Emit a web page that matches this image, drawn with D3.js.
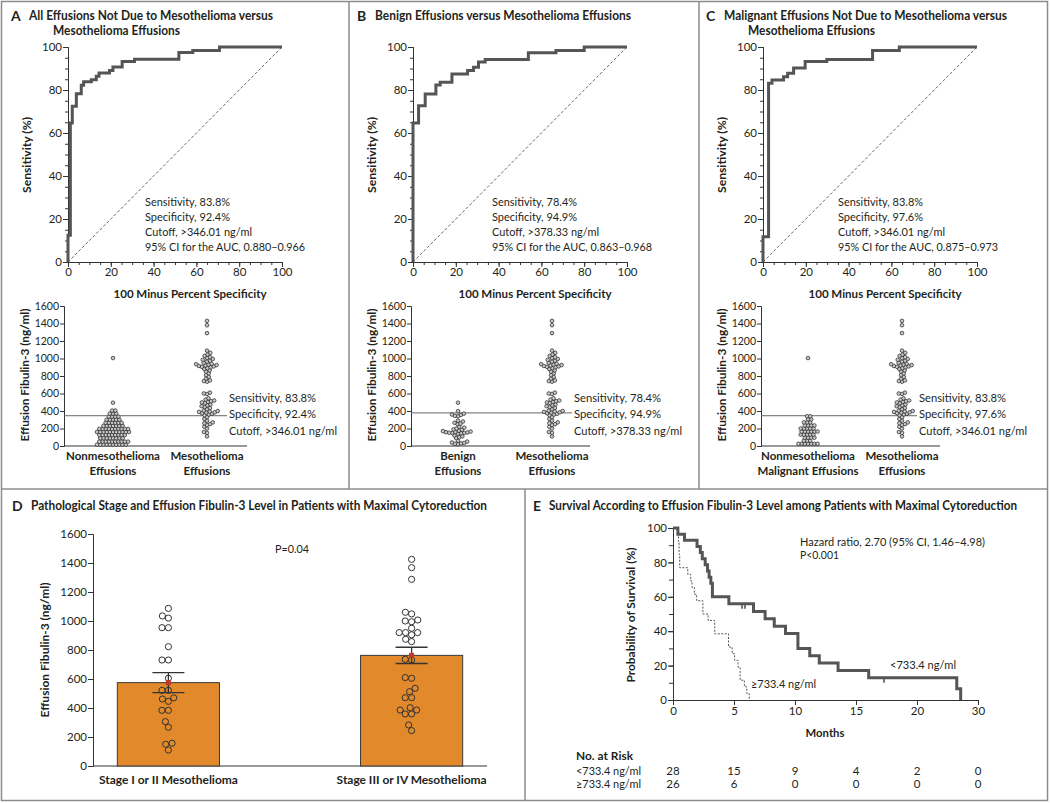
<!DOCTYPE html>
<html><head><meta charset="utf-8">
<script src="https://cdn.jsdelivr.net/npm/d3@7"></script>
<style>body{margin:0;background:#fff}</style>
</head><body>
<script>
// ---------------- DATA ----------------
const rocTicks = [0, 20, 40, 60, 80, 100];
const conTicks = [0, 200, 400, 600, 800, 1000, 1200, 1400, 1600];

const rocA_fpr = [0, 0, 1.1, 2.0, 3.9, 6.2, 7.3, 10.9, 13.2, 14.5, 19.4, 21.0, 25.3, 31.1, 51.8, 58.3, 70.8, 100];
const rocA_sens = [0, 12.4, 64.7, 72.4, 78.3, 82.2, 83.8, 84.8, 86.4, 87.9, 89.1, 90.7, 93.3, 94.3, 97.4, 98.4, 100, 100];
const rocB_fpr = [0, 0, 2.6, 5.7, 10.7, 12.7, 18.2, 25.5, 28.3, 30.6, 33.7, 53.9, 66.8, 80.0, 100];
const rocB_sens = [0, 64.7, 72.7, 78.1, 82.3, 83.6, 87.5, 89.1, 90.6, 93.0, 94.2, 97.3, 98.4, 100, 100];
const rocC_fpr = [0, 0, 2.6, 4.2, 9.6, 11.5, 14.3, 19.7, 29.8, 51.2, 63.7, 100];
const rocC_sens = [0, 11.7, 83.1, 84.7, 86.2, 87.8, 90.2, 93.3, 94.2, 98.4, 100, 100];

const cutoffs = [346.01, 378.33, 346.01];
const annotA = ["Sensitivity, 83.8%", "Specificity, 92.4%", "Cutoff, >346.01 ng/ml", "95% CI for the AUC, 0.880\u20130.966"];
const annotB = ["Sensitivity, 78.4%", "Specificity, 94.9%", "Cutoff, >378.33 ng/ml", "95% CI for the AUC, 0.863\u20130.968"];
const annotC = ["Sensitivity, 83.8%", "Specificity, 97.6%", "Cutoff, >346.01 ng/ml", "95% CI for the AUC, 0.875\u20130.973"];

const mesoValues = [1430, 1380, 1290,
  1090, 1065, 1045, 1030, 1015, 1005, 995, 985, 975, 965,
  950, 940, 935, 930, 925, 920, 915, 910, 905, 900, 890, 880,
  865, 850, 830, 810, 790, 770, 750, 742, 735,
  610, 600, 595,
  545, 530, 520, 512, 505, 498, 490,
  475, 465, 455, 445, 435,
  420, 405, 400, 395, 390, 385, 382,
  375, 368, 360, 352,
  330, 310, 290, 270, 260, 250, 240, 220, 200, 160, 150, 110];
const nonMesoValues = [1005, 495, 405, 405, 370, 370, 370,
  335, 335, 335, 335,
  300, 300, 300, 300, 300,
  265, 265, 265, 265, 265, 265,
  230, 230, 230, 230, 230, 230, 230,
  195, 195, 195, 195, 195, 195, 195, 195, 195, 195,
  160, 160, 160, 160, 160, 160, 160, 160, 160, 160, 160,
  125, 125, 125, 125, 125, 125, 125, 125, 125,
  90, 90, 90, 90, 90, 90, 90, 90,
  50, 50, 50, 50, 50, 50, 50, 50, 50, 50,
  15, 15, 15, 15, 15, 15, 15, 15, 15, 15];
const benignValues = [495, 398, 370, 360, 355, 345, 340, 290, 280, 265, 255, 250,
  220, 210, 200, 190, 185, 175, 170, 165, 160, 158, 155, 152, 150, 148, 145, 140,
  120, 110, 100, 90, 60, 50, 40, 35, 30, 25, 20];
const malignantValues = [1005, 340, 340, 305, 305, 270, 270, 270,
  235, 235, 235, 235, 200, 200, 200, 200, 200, 165, 165, 165, 165, 165, 165,
  130, 130, 130, 130, 130, 95, 95, 95, 95, 60, 60, 60,
  25, 25, 25, 25, 25, 25, 25];

const stageCats = ["Stage I or II Mesothelioma", "Stage III or IV Mesothelioma"];
const stage12 = [1087, 1035, 1020, 954, 954, 823, 731, 731, 605, 522, 522, 470, 462, 446, 384, 384, 306, 267, 157, 150, 110];
const stage34 = [1425, 1368, 1287, 1060, 1049, 1007, 1000, 995, 950, 920, 920, 920, 905, 874, 858, 736, 731, 610, 605, 536, 513, 471, 471, 402, 386, 386, 359, 359, 283, 244];
const stageMean = [575, 763];
const stageSE = [69, 56];

const kmLowT = [0, 0.40, 0.94, 1.97, 2.24, 2.40, 2.64, 2.83, 2.96, 3.10, 3.23, 4.58, 6.60, 7.55, 8.30, 9.22, 10.24, 11.21, 11.99, 13.53, 16.04, 23.26, 23.58];
const kmLowS = [100, 96.4, 92.9, 89.3, 85.7, 82.1, 78.6, 75.0, 71.4, 67.9, 60.0, 56.0, 51.5, 47.3, 42.9, 38.6, 30.0, 25.7, 21.5, 17.2, 12.9, 6.5, 0];
const kmLowCensorT = [5.66, 5.90, 17.3];
const kmLowCensorS = [56.0, 56.0, 12.9];
const kmHighT = [0, 0.45, 0.50, 0.55, 1.21, 1.45, 1.56, 1.75, 1.94, 2.45, 2.88, 3.42, 4.55, 4.85, 5.05, 5.33, 5.50, 5.85, 6.05, 6.25];
const kmHighS = [100, 92.3, 84.6, 76.9, 73.1, 69.2, 65.4, 61.5, 57.7, 50.0, 46.2, 38.5, 30.8, 26.9, 23.1, 19.2, 11.5, 7.7, 3.8, 0];
const kmTicks = [0, 5, 10, 15, 20, 25];
const kmTickLabels = ["0", "5", "10", "15", "20", "30"];
const kmYTicks = [0, 20, 40, 60, 80, 100];
const riskLabels = ["<733.4 ng/ml", "\u2265733.4 ng/ml"];
const riskLow = [28, 15, 9, 4, 2, 0];
const riskHigh = [26, 6, 0, 0, 0, 0];

// ---------------- DRAW ----------------
const FONT = "Lato, 'Noto Sans', sans-serif";
const INK = "#231f20";
const svg = d3.select("body").append("svg").attr("width", 1050).attr("height", 803)
  .style("font-family", FONT).style("fill", INK);

function txt(x, y, s, o = {}) {
  const t = svg.append("text").attr("x", x).attr("y", y).text(s)
    .attr("font-size", o.size || 11.5).attr("font-weight", o.bold ? "bold" : "normal")
    .attr("text-anchor", o.anchor || "start").attr("dominant-baseline", "middle").attr("fill", INK);
  if (o.len) t.attr("textLength", o.len).attr("lengthAdjust", "spacingAndGlyphs");
  return t;
}
function ytitle(x, y, s, len) {
  const t = svg.append("text").attr("transform", `translate(${x},${y}) rotate(-90)`).text(s)
    .attr("font-size", 11.5).attr("font-weight", "bold").attr("text-anchor", "middle")
    .attr("dominant-baseline", "middle").attr("fill", INK);
  if (len) t.attr("textLength", len).attr("lengthAdjust", "spacingAndGlyphs");
}
function styleAxis(g, fs) {
  g.selectAll("path,line").attr("stroke", "#333").attr("stroke-width", 1);
  g.selectAll("text").attr("font-size", fs || 11).attr("fill", INK).style("font-family", FONT);
}
const fmt = d3.format("d");

// frame & dividers
const frame = svg.append("g").attr("stroke", "#8c8c8c").attr("stroke-width", 1.5).attr("fill", "none");
frame.append("rect").attr("x", 1.5).attr("y", 1.5).attr("width", 1046).attr("height", 799);
frame.append("line").attr("x1", 349).attr("x2", 349).attr("y1", 1.5).attr("y2", 489);
frame.append("line").attr("x1", 699).attr("x2", 699).attr("y1", 1.5).attr("y2", 489);
frame.append("line").attr("x1", 1.5).attr("x2", 1047.5).attr("y1", 489).attr("y2", 489);
frame.append("line").attr("x1", 525).attr("x2", 525).attr("y1", 489).attr("y2", 800.5);

function swarm(vals, y, D) {
  const pts = vals.map(v => ({ v, y: y(v) })).sort((a, b) => b.y - a.y);
  const placed = [];
  for (const p of pts) {
    const ivs = [];
    for (const q of placed) {
      const dy = Math.abs(q.y - p.y);
      if (dy < D) { const dx = Math.sqrt(D * D - dy * dy); ivs.push([q.x - dx, q.x + dx]); }
    }
    const cands = [0];
    ivs.forEach(iv => cands.push(iv[0], iv[1]));
    cands.sort((a, b) => (Math.abs(a) - Math.abs(b)) || (a - b));
    let x = 0;
    for (const c of cands) {
      if (ivs.every(iv => c <= iv[0] + 1e-6 || c >= iv[1] - 1e-6)) { x = c; break; }
    }
    p.x = x; placed.push(p);
  }
  return pts;
}

const annotLens = [85, 85, 107, 160];

function rocPanel(cfg) {
  const x = d3.scaleLinear().domain([0, 100]).range([cfg.left, cfg.left + 214]);
  const y = d3.scaleLinear().domain([0, 100]).range([262, 47]);
  const minor = d3.range(0, 101, 5);
  styleAxis(svg.append("g").attr("transform", "translate(0,262)")
    .call(d3.axisBottom(x).tickValues(minor).tickSize(3).tickFormat("")));
  styleAxis(svg.append("g").attr("transform", `translate(${cfg.left},0)`)
    .call(d3.axisLeft(y).tickValues(minor).tickSize(3).tickFormat("")));
  styleAxis(svg.append("g").attr("transform", "translate(0,262)")
    .call(d3.axisBottom(x).tickValues(rocTicks).tickSize(5).tickPadding(1)), 11.5);
  styleAxis(svg.append("g").attr("transform", `translate(${cfg.left},0)`)
    .call(d3.axisLeft(y).tickValues(rocTicks).tickSize(5).tickPadding(1)), 11.5);
  svg.append("line").attr("x1", x(0)).attr("y1", y(0)).attr("x2", x(100)).attr("y2", y(100))
    .attr("stroke", "#555").attr("stroke-width", 0.9).attr("stroke-dasharray", "3,2");
  const pts = cfg.fpr.map((f, i) => [f, cfg.sens[i]]);
  svg.append("path").datum(pts)
    .attr("d", d3.line().x(d => x(d[0])).y(d => y(d[1])).curve(d3.curveStepAfter))
    .attr("fill", "none").attr("stroke", "#555").attr("stroke-width", 3);
  cfg.annot.forEach((s, i) => txt(cfg.annX, 203 + i * 15, s, { size: 11.5, len: annotLens[i] }));
  ytitle(cfg.left - 40, 155, "Sensitivity (%)", 76);
  txt(cfg.left + 122, 295, "100 Minus Percent Specificity", { bold: true, anchor: "middle", size: 12, len: 153 });

  // dot plot
  const L = cfg.dotLeft;
  const yd = d3.scaleLinear().domain([0, 1600]).range([446, 306]);
  styleAxis(svg.append("g").attr("transform", `translate(${L},0)`)
    .call(d3.axisLeft(yd).tickValues(conTicks).tickSize(4).tickPadding(1).tickFormat(fmt)), 10.5);
  svg.append("line").attr("x1", L).attr("x2", cfg.dotRight).attr("y1", 446).attr("y2", 446)
    .attr("stroke", "#333");
  ytitle(L - 38, 375, "Effusion Fibulin-3 (ng/ml)", 133);
  svg.append("line").attr("x1", L).attr("x2", cfg.cutEnd).attr("y1", yd(cfg.cut)).attr("y2", yd(cfg.cut))
    .attr("stroke", "#666").attr("stroke-width", 1);
  [cfg.ctrl, mesoValues].forEach((vals, k) => {
    const cx = cfg.catX[k];
    const sw = swarm(vals, yd, 3.2);
    svg.append("g").selectAll("circle").data(sw).join("circle")
      .attr("cx", d => cx + d.x).attr("cy", d => d.y).attr("r", 1.8)
      .attr("fill", "#c8c8c8").attr("stroke", "#333").attr("stroke-width", 0.8);
    cfg.catLabels[k].forEach((s, i) => txt(cx, 457 + i * 15, s, { bold: true, anchor: "middle", size: 11.5 }));
  });
  cfg.annot.slice(0, 3).forEach((s, i) => txt(cfg.cutEnd + 2, 399 + i * 16.5, s, { size: 11.5, len: [87, 87, 108][i] }));
}

// Panel titles
txt(11, 17, "A", { bold: true, size: 14 });
txt(29, 17, "All Effusions Not Due to Mesothelioma versus", { bold: true, size: 12.5, len: 244 });
txt(53, 32, "Mesothelioma Effusions", { bold: true, size: 12.5, len: 127 });
txt(357, 17, "B", { bold: true, size: 14 });
txt(375, 17, "Benign Effusions versus Mesothelioma Effusions", { bold: true, size: 12.5, len: 256 });
txt(706, 17, "C", { bold: true, size: 14 });
txt(724, 17, "Malignant Effusions Not Due to Mesothelioma versus", { bold: true, size: 12.5, len: 283 });
txt(748, 32, "Mesothelioma Effusions", { bold: true, size: 12.5, len: 127 });

rocPanel({ left: 68, fpr: rocA_fpr, sens: rocA_sens, annot: annotA, annX: 145,
  dotLeft: 64, dotRight: 247, cutEnd: 227, cut: cutoffs[0], ctrl: nonMesoValues,
  catX: [113, 207], catLabels: [["Nonmesothelioma", "Effusions"], ["Mesothelioma", "Effusions"]] });
rocPanel({ left: 413, fpr: rocB_fpr, sens: rocB_sens, annot: annotB, annX: 492,
  dotLeft: 411, dotRight: 590, cutEnd: 572, cut: cutoffs[1], ctrl: benignValues,
  catX: [458, 552], catLabels: [["Benign", "Effusions"], ["Mesothelioma", "Effusions"]] });
rocPanel({ left: 763, fpr: rocC_fpr, sens: rocC_sens, annot: annotC, annX: 838,
  dotLeft: 761, dotRight: 940, cutEnd: 917, cut: cutoffs[2], ctrl: malignantValues,
  catX: [808, 902], catLabels: [["Nonmesothelioma", "Malignant Effusions"], ["Mesothelioma", "Effusions"]] });

// ---------------- Panel D ----------------
txt(12, 507, "D", { bold: true, size: 14 });
txt(31, 507, "Pathological Stage and Effusion Fibulin-3 Level in Patients with Maximal Cytoreduction", { bold: true, size: 12.5, len: 456 });
{
  const yD = d3.scaleLinear().domain([0, 1600]).range([766, 534]);
  const xD = d3.scaleBand().domain(stageCats).range([93, 487]).paddingInner(0.58).paddingOuter(0.1);
  styleAxis(svg.append("g").attr("transform", "translate(93,0)")
    .call(d3.axisLeft(yD).tickValues(conTicks).tickSize(5).tickPadding(1).tickFormat(fmt)), 11.5);
  svg.append("line").attr("x1", 93).attr("x2", 487).attr("y1", 766).attr("y2", 766).attr("stroke", "#333");
  ytitle(46, 650, "Effusion Fibulin-3 (ng/ml)", 135);
  txt(275, 550, "P=0.04", { size: 11.5, len: 34 });
  [stage12, stage34].forEach((vals, k) => {
    const c = stageCats[k];
    const bx = xD(c), bw = xD.bandwidth(), cx = bx + bw / 2;
    svg.append("rect").attr("x", bx).attr("y", yD(stageMean[k])).attr("width", bw)
      .attr("height", yD(0) - yD(stageMean[k])).attr("fill", "#e1892b").attr("stroke", "#3a3a3a").attr("stroke-width", 1);
    const sw = swarm(vals, yD, 6.4);
    svg.append("g").selectAll("circle").data(sw).join("circle")
      .attr("cx", d => cx + d.x).attr("cy", d => d.y).attr("r", 3.1)
      .attr("fill", "none").attr("stroke", "#333").attr("stroke-width", 1);
    const lo = yD(stageMean[k] - stageSE[k]), hi = yD(stageMean[k] + stageSE[k]);
    const eg = svg.append("g").attr("stroke", "#333").attr("stroke-width", 1.3);
    eg.append("line").attr("x1", cx).attr("x2", cx).attr("y1", lo).attr("y2", hi);
    eg.append("line").attr("x1", cx - 16).attr("x2", cx + 16).attr("y1", lo).attr("y2", lo);
    eg.append("line").attr("x1", cx - 16).attr("x2", cx + 16).attr("y1", hi).attr("y2", hi);
    svg.append("rect").attr("x", cx - 2.5).attr("y", yD(stageMean[k]) - 2.5).attr("width", 5).attr("height", 5)
      .attr("fill", "#c0392b");
    txt(cx, 781, c, { bold: true, anchor: "middle", size: 12, len: [139, 150][k] });
  });
}

// ---------------- Panel E ----------------
txt(533, 507, "E", { bold: true, size: 14 });
txt(549, 507, "Survival According to Effusion Fibulin-3 Level among Patients with Maximal Cytoreduction", { bold: true, size: 12.5, len: 468 });
{
  const xE = d3.scaleLinear().domain([0, 25]).range([673, 978]);
  const yE = d3.scaleLinear().domain([0, 100]).range([700, 528]);
  styleAxis(svg.append("g").attr("transform", "translate(673,0)")
    .call(d3.axisLeft(yE).tickValues(d3.range(0, 101, 10)).tickSize(4).tickFormat("")));
  styleAxis(svg.append("g").attr("transform", "translate(673,0)")
    .call(d3.axisLeft(yE).tickValues(kmYTicks).tickSize(5).tickPadding(1)), 11.5);
  styleAxis(svg.append("g").attr("transform", "translate(0,700)")
    .call(d3.axisBottom(xE).tickValues(kmTicks).tickSize(5).tickPadding(2).tickFormat((d, i) => kmTickLabels[i])), 11.5);
  ytitle(632, 615, "Probability of Survival (%)", 135);
  txt(825, 734, "Months", { bold: true, anchor: "middle", size: 12, len: 39 });
  const line = d3.line().x(d => xE(d[0])).y(d => yE(d[1])).curve(d3.curveStepAfter);
  svg.append("path").datum(kmHighT.map((t, i) => [t, kmHighS[i]])).attr("d", line)
    .attr("fill", "none").attr("stroke", "#555").attr("stroke-width", 1).attr("stroke-dasharray", "2,1.5");
  svg.append("path").datum(kmLowT.map((t, i) => [t, kmLowS[i]])).attr("d", line)
    .attr("fill", "none").attr("stroke", "#555").attr("stroke-width", 3);
  kmLowCensorT.forEach((t, i) => {
    svg.append("line").attr("x1", xE(t)).attr("x2", xE(t)).attr("y1", yE(kmLowCensorS[i]))
      .attr("y2", yE(kmLowCensorS[i]) + 5).attr("stroke", "#555").attr("stroke-width", 1.6);
  });
  txt(800, 543, "Hazard ratio, 2.70 (95% CI, 1.46\u20134.98)", { size: 11.5, len: 185 });
  txt(800, 556, "P<0.001", { size: 11.5, len: 39 });
  txt(890, 666, riskLabels[0], { size: 11.5, len: 66 });
  txt(751, 685, riskLabels[1], { size: 11.5, len: 65 });
  txt(576, 757, "No. at Risk", { bold: true, size: 12, len: 57 });
  txt(576, 772, riskLabels[0], { size: 11.5, len: 65 });
  txt(576, 785, riskLabels[1], { size: 11.5, len: 65 });
  kmTicks.forEach((t, i) => {
    txt(xE(t), 772, String(riskLow[i]), { anchor: "middle", size: 11.5 });
    txt(xE(t), 785, String(riskHigh[i]), { anchor: "middle", size: 11.5 });
  });
}
</script>
</body></html>
